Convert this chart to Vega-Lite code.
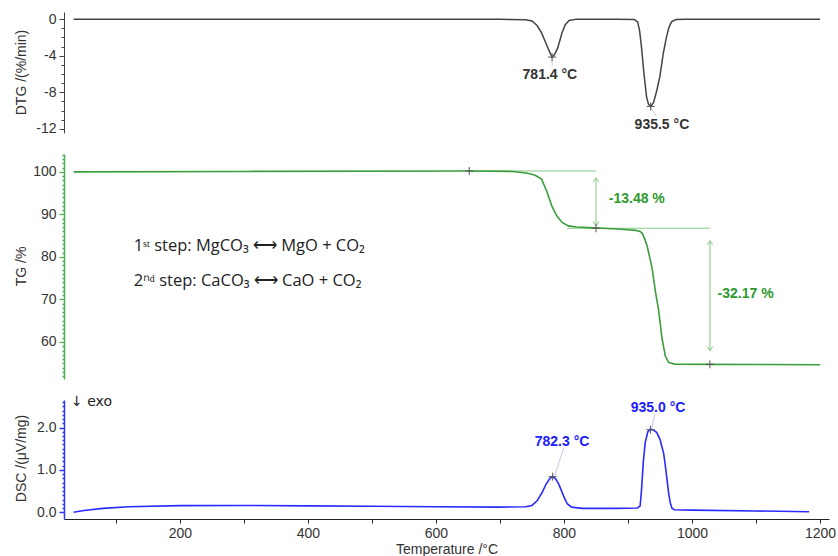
{
  "$schema": "https://vega.github.io/schema/vega-lite/v6.json",
  "padding": {"left": 13, "top": 12, "right": 5, "bottom": 0},
  "bounds": "flush",
  "spacing": 21,
  "config": {
    "view": {"stroke": null},
    "font": "Liberation Sans",
    "axis": {"labelFont": "Liberation Sans", "labelFontSize": 14, "labelColor": "#333", "titleFont": "Liberation Sans", "titleFontSize": 14, "titleFontWeight": "normal", "titleColor": "#333", "grid": false, "domainWidth": 1, "labelPadding": 3}
  },
  "datasets": {
    "dtg": [
      {"T": 34, "v": 0}, {"T": 100, "v": 0}, {"T": 200, "v": 0}, {"T": 300, "v": 0}, {"T": 400, "v": 0}, {"T": 500, "v": 0}, {"T": 600, "v": 0}, {"T": 700, "v": -0.02}, {"T": 740, "v": -0.08},
      {"T": 750, "v": -0.2}, {"T": 758, "v": -0.7}, {"T": 765, "v": -1.5}, {"T": 771, "v": -2.5}, {"T": 777, "v": -3.5}, {"T": 781.4, "v": -4.15}, {"T": 785, "v": -3.9}, {"T": 790, "v": -3.2}, {"T": 797, "v": -1.5}, {"T": 802, "v": -0.6}, {"T": 808, "v": -0.15}, {"T": 820, "v": 0},
      {"T": 880, "v": 0}, {"T": 910, "v": -0.05}, {"T": 915, "v": -0.3}, {"T": 918, "v": -1.2}, {"T": 921, "v": -3}, {"T": 925, "v": -6}, {"T": 929, "v": -8.5}, {"T": 932, "v": -9.3}, {"T": 935.5, "v": -9.55}, {"T": 940, "v": -9.1}, {"T": 945, "v": -7.8}, {"T": 950, "v": -6.2}, {"T": 955, "v": -3.8}, {"T": 960, "v": -2.0}, {"T": 964, "v": -0.9}, {"T": 968, "v": -0.3}, {"T": 975, "v": -0.05}, {"T": 990, "v": 0},
      {"T": 1100, "v": 0}, {"T": 1200, "v": 0}
    ],
    "tg": [
      {"T": 34, "v": 100.0}, {"T": 300, "v": 100.1}, {"T": 652, "v": 100.2}, {"T": 720, "v": 100.1}, {"T": 734, "v": 99.85}, {"T": 745, "v": 99.6}, {"T": 755, "v": 99.2}, {"T": 765, "v": 98.3}, {"T": 773, "v": 95.5}, {"T": 781, "v": 92}, {"T": 789, "v": 89.6}, {"T": 797, "v": 88.1}, {"T": 807, "v": 87.3}, {"T": 820, "v": 87.05}, {"T": 838, "v": 86.9}, {"T": 860, "v": 86.75}, {"T": 890, "v": 86.5}, {"T": 912, "v": 86.25}, {"T": 919, "v": 86.0},
      {"T": 922, "v": 85.6}, {"T": 926, "v": 84.3}, {"T": 930, "v": 82.5}, {"T": 937.5, "v": 77.5}, {"T": 942.7, "v": 72}, {"T": 948, "v": 67.3}, {"T": 953, "v": 61}, {"T": 958.3, "v": 56.7}, {"T": 963.5, "v": 55.2}, {"T": 973, "v": 54.8}, {"T": 1028, "v": 54.75}, {"T": 1100, "v": 54.7}, {"T": 1200, "v": 54.65}
    ],
    "dsc": [
      {"T": 34, "v": 0.0}, {"T": 50, "v": 0.04}, {"T": 80, "v": 0.09}, {"T": 120, "v": 0.13}, {"T": 200, "v": 0.155}, {"T": 300, "v": 0.16}, {"T": 400, "v": 0.15}, {"T": 500, "v": 0.14}, {"T": 600, "v": 0.13}, {"T": 700, "v": 0.12}, {"T": 740, "v": 0.13},
      {"T": 750, "v": 0.16}, {"T": 758, "v": 0.27}, {"T": 765.6, "v": 0.46}, {"T": 772, "v": 0.66}, {"T": 778, "v": 0.8}, {"T": 782.3, "v": 0.84}, {"T": 787, "v": 0.79}, {"T": 791.7, "v": 0.67}, {"T": 799.5, "v": 0.38}, {"T": 805, "v": 0.2}, {"T": 812, "v": 0.12}, {"T": 828, "v": 0.09},
      {"T": 880, "v": 0.09}, {"T": 915, "v": 0.1}, {"T": 919, "v": 0.15}, {"T": 921, "v": 0.5}, {"T": 924, "v": 1.2}, {"T": 927, "v": 1.65}, {"T": 931, "v": 1.9}, {"T": 935, "v": 1.96}, {"T": 940, "v": 1.94}, {"T": 945, "v": 1.88}, {"T": 950, "v": 1.72}, {"T": 955.7, "v": 1.39}, {"T": 958.5, "v": 1.08}, {"T": 961, "v": 0.77}, {"T": 963.5, "v": 0.45}, {"T": 966, "v": 0.23}, {"T": 968.5, "v": 0.1}, {"T": 972, "v": 0.06}, {"T": 1000, "v": 0.05}, {"T": 1100, "v": 0.03}, {"T": 1183, "v": 0.01}
    ],
    "dtgMarks": [{"T": 781.4, "v": -4.15}, {"T": 935.5, "v": -9.55}],
    "dtgLeaders": [{"T": 781.4, "v": -4.3, "T2": 781.4, "v2": -5.1}, {"T": 936, "v": -9.7, "T2": 944, "v2": -10.6}],
    "dtgLabels": [{"T": 778, "v": -6.1, "label": "781.4 °C"}, {"T": 953, "v": -11.56, "label": "935.5 °C"}],
    "tgRefs": [
      {"T": 652, "T2": 850, "v": 100.2, "v2": 100.2},
      {"T": 805, "T2": 1028, "v": 86.75, "v2": 86.75}
    ],
    "tgArrows": [
      {"T": 850, "T2": 850, "v": 98.6, "v2": 87.3},
      {"T": 1028, "T2": 1028, "v": 83.8, "v2": 57.9}
    ],
    "tgHeads": [
      {"T": 850, "v": 98.6, "dir": "up"}, {"T": 850, "v": 87.3, "dir": "down"},
      {"T": 1028, "v": 83.8, "dir": "up"}, {"T": 1028, "v": 57.9, "dir": "down"}
    ],
    "tgMarks": [{"T": 652, "v": 100.2}, {"T": 850, "v": 86.75}, {"T": 1028, "v": 54.75}],
    "tgLabels": [{"T": 870, "v": 93.6, "label": "-13.48 %"}, {"T": 1040, "v": 71.4, "label": "-32.17 %"}],
    "steps": [
      {"T": 128, "v": 82.6, "label": "1ˢᵗ step: MgCO₃ ⟷ MgO + CO₂"},
      {"T": 128, "v": 74.4, "label": "2ⁿᵈ step: CaCO₃ ⟷ CaO + CO₂"}
    ],
    "dscMarks": [{"T": 782.3, "v": 0.84}, {"T": 935.0, "v": 1.95}],
    "dscLeaders": [{"T": 799.5, "v": 1.51, "T2": 785.4, "v2": 0.86}, {"T": 942, "v": 2.33, "T2": 937, "v2": 1.98}],
    "dscLabels": [{"T": 797, "v": 1.65, "label": "782.3 °C"}, {"T": 947, "v": 2.47, "label": "935.0 °C"}],
    "exo": [{"T": 30, "v": 2.6, "label": "↓ exo"}]
  },
  "vconcat": [
    {
      "width": 765,
      "height": 121,
      "encoding": {
        "x": {"field": "T", "type": "quantitative", "scale": {"domain": [19, 1214], "nice": false, "zero": false}, "axis": null},
        "y": {"field": "v", "type": "quantitative", "scale": {"domain": [-12.45, 0.78], "nice": false, "zero": false},
          "axis": {"title": "DTG /(%/min)", "titleX": -36, "titleY": 60, "domainColor": "#444", "tickColor": "#444",
            "values": [-12, -11, -10, -9, -8, -7, -6, -5, -4, -3, -2, -1, 0],
            "tickSize": {"condition": {"test": "datum.value % 4 == 0", "value": 5}, "value": 3},
            "labelExpr": "datum.value % 4 == 0 ? '' + datum.value : ''"}}
      },
      "layer": [
        {"data": {"name": "dtg"}, "mark": {"type": "line", "color": "#444", "strokeWidth": 1.5}},
        {"data": {"name": "dtgLeaders"}, "mark": {"type": "rule", "color": "#bbb", "strokeWidth": 0.8}, "encoding": {"x2": {"field": "T2"}, "y2": {"field": "v2"}}},
        {"data": {"name": "dtgMarks"}, "mark": {"type": "point", "shape": "M-1,0H1M0,-1V1", "size": 64, "filled": false, "color": "#555", "strokeWidth": 1, "opacity": 1}},
        {"data": {"name": "dtgLabels"}, "mark": {"type": "text", "fontSize": 14, "fontWeight": "bold", "color": "#333", "font": "Liberation Sans"}, "encoding": {"text": {"field": "label"}}}
      ]
    },
    {
      "width": 765,
      "height": 225,
      "encoding": {
        "x": {"field": "T", "type": "quantitative", "scale": {"domain": [19, 1214], "nice": false, "zero": false}, "axis": null},
        "y": {"field": "v", "type": "quantitative", "scale": {"domain": [51.3, 104.2], "nice": false, "zero": false},
          "axis": {"title": "TG /%", "titleX": -36, "titleY": 112, "domainColor": "#4caf50", "tickColor": "#4caf50", "domainWidth": 1.5,
            "values": [52, 53, 54, 55, 56, 57, 58, 59, 60, 61, 62, 63, 64, 65, 66, 67, 68, 69, 70, 71, 72, 73, 74, 75, 76, 77, 78, 79, 80, 81, 82, 83, 84, 85, 86, 87, 88, 89, 90, 91, 92, 93, 94, 95, 96, 97, 98, 99, 100, 101, 102, 103, 104],
            "tickSize": {"condition": {"test": "datum.value % 10 == 0", "value": 5}, "value": 2},
            "tickWidth": {"condition": {"test": "datum.value % 10 == 0", "value": 1.2}, "value": 1.5},
            "labelExpr": "datum.value % 10 == 0 ? '' + datum.value : ''"}}
      },
      "layer": [
        {"data": {"name": "tgRefs"}, "mark": {"type": "rule", "color": "#86c986", "strokeWidth": 1}, "encoding": {"x2": {"field": "T2"}, "y2": {"field": "v2"}}},
        {"data": {"name": "tgArrows"}, "mark": {"type": "rule", "color": "#86c986", "strokeWidth": 1}, "encoding": {"x2": {"field": "T2"}, "y2": {"field": "v2"}}},
        {"data": {"name": "tgHeads"}, "mark": {"type": "point", "filled": false, "size": 30, "color": "#86c986", "strokeWidth": 1, "opacity": 1},
          "encoding": {"shape": {"field": "dir", "type": "nominal", "legend": null, "scale": {"domain": ["up", "down"], "range": ["M-1,1.6L0,0L1,1.6", "M-1,-1.6L0,0L1,-1.6"]}}}},
        {"data": {"name": "tg"}, "mark": {"type": "line", "color": "#3a9e3a", "strokeWidth": 1.6}},
        {"data": {"name": "tgMarks"}, "mark": {"type": "point", "shape": "M-1,0H1M0,-1V1", "size": 64, "filled": false, "color": "#555", "strokeWidth": 1, "opacity": 1}},
        {"data": {"name": "tgLabels"}, "mark": {"type": "text", "align": "left", "fontSize": 14, "fontWeight": "bold", "color": "#2e9a2e", "font": "Liberation Sans"}, "encoding": {"text": {"field": "label"}}},
        {"data": {"name": "steps"}, "mark": {"type": "text", "align": "left", "fontSize": 16.5, "color": "#222", "font": "Open Sans"}, "encoding": {"text": {"field": "label"}}}
      ]
    },
    {
      "width": 765,
      "height": 119,
      "encoding": {
        "x": {"field": "T", "type": "quantitative", "scale": {"domain": [19, 1214], "nice": false, "zero": false},
          "axis": {"title": "Temperature /°C", "titlePadding": 2, "domainColor": "#222", "tickColor": "#222", "tickSize": 4,
            "values": [100, 200, 300, 400, 500, 600, 700, 800, 900, 1000, 1100, 1200],
            "labelExpr": "datum.value % 200 == 0 ? '' + datum.value : ''"}},
        "y": {"field": "v", "type": "quantitative", "scale": {"domain": [-0.16, 2.65], "nice": false, "zero": false},
          "axis": {"title": "DSC /(μV/mg)", "titleX": -36, "titleY": 58, "domainColor": "#3333ff", "tickColor": "#3333ff", "domainWidth": 1.5,
            "values": [0, 0.1, 0.2, 0.3, 0.4, 0.5, 0.6, 0.7, 0.8, 0.9, 1, 1.1, 1.2, 1.3, 1.4, 1.5, 1.6, 1.7, 1.8, 1.9, 2, 2.1, 2.2, 2.3, 2.4, 2.5, 2.6],
            "tickSize": {"condition": {"test": "datum.value == 0 || datum.value == 1 || datum.value == 2", "value": 5}, "value": 2},
            "tickWidth": 1.5,
            "labelExpr": "(datum.value == 0 || datum.value == 1 || datum.value == 2) ? format(datum.value, '.1f') : ''"}}
      },
      "layer": [
        {"data": {"name": "dsc"}, "mark": {"type": "line", "color": "#2b2bff", "strokeWidth": 1.6}},
        {"data": {"name": "dscLeaders"}, "mark": {"type": "rule", "color": "#b8b8e8", "strokeWidth": 0.8}, "encoding": {"x2": {"field": "T2"}, "y2": {"field": "v2"}}},
        {"data": {"name": "dscMarks"}, "mark": {"type": "point", "shape": "M-1,0H1M0,-1V1", "size": 64, "filled": false, "color": "#555", "strokeWidth": 1, "opacity": 1}},
        {"data": {"name": "dscLabels"}, "mark": {"type": "text", "fontSize": 14, "fontWeight": "bold", "color": "#2020ff", "font": "Liberation Sans"}, "encoding": {"text": {"field": "label"}}},
        {"data": {"name": "exo"}, "mark": {"type": "text", "align": "left", "fontSize": 14, "color": "#222", "font": "DejaVu Sans"}, "encoding": {"text": {"field": "label"}}}
      ]
    }
  ]
}
